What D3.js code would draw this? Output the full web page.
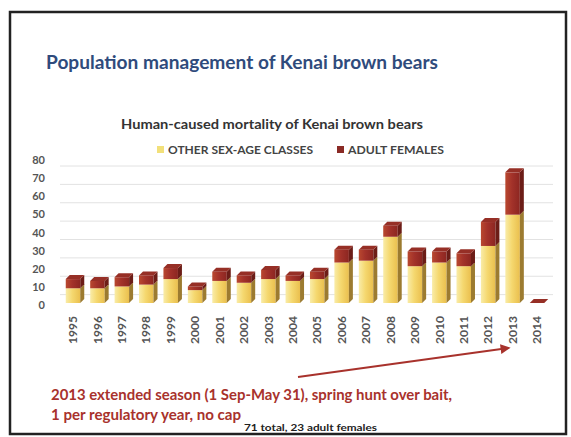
<!DOCTYPE html>
<html>
<head>
<meta charset="utf-8">
<script src="https://cdn.jsdelivr.net/npm/d3@7"></script>
<style>
  body { margin: 0; background: #fff; }
  text { font-family: Lato, "Open Sans", sans-serif; }
</style>
</head>
<body>
<script>
// values
var years = ["1995","1996","1997","1998","1999","2000","2001","2002","2003","2004",
             "2005","2006","2007","2008","2009","2010","2011","2012","2013","2014"];
var otherClasses = [8, 8, 9, 10, 13, 7, 12, 11, 13, 12, 13, 22, 23, 36, 20, 22, 20, 31, 48, 0];
var adultFemales = [5, 4, 5, 5, 6, 2, 5, 4, 5, 3, 4, 7, 6, 6, 8, 6, 7, 13, 23, 0];
var yTicks = [0, 10, 20, 30, 40, 50, 60, 70, 80];
var seriesNames = ["OTHER SEX-AGE CLASSES", "ADULT FEMALES"];

var w = 571, h = 437;
var depthX = 4, depthY = 4;   // fake 3d offset
var barW = 14.5;

var rows = years.map(function (y, i) {
    return { year: y, other: otherClasses[i], females: adultFemales[i] };
});
var stacked = d3.stack().keys(["other", "females"])(rows);

var svg = d3.select("body").append("svg")
    .attr("width", w)
    .attr("height", h);

var defs = svg.append("defs");
function grad(id, stops) {
    var g = defs.append("linearGradient").attr("id", id)
        .attr("x1", 0).attr("x2", 1).attr("y1", 0).attr("y2", 0);
    stops.forEach(function (s) {
        g.append("stop").attr("offset", s[0]).attr("stop-color", s[1]);
    });
}
grad("yellowFront", [[0, "#f9eca8"], [0.45, "#f5d86f"], [1, "#eabf4e"]]);
grad("redFront", [[0, "#b9482f"], [0.45, "#a3322a"], [1, "#8c2621"]]);

var colors = {
    other:   { front: "url(#yellowFront)", side: "#9c7b30", top: "#f0d47a", key: "#f2e07a" },
    females: { front: "url(#redFront)",    side: "#6c1d17", top: "#962f26", key: "#8a2a25" }
};

// frame
svg.append("rect")
    .attr("x", 10).attr("y", 12)
    .attr("width", 556).attr("height", 422)
    .attr("fill", "#fff")
    .attr("stroke", "#222")
    .attr("stroke-width", 2.5);

svg.append("text")
    .attr("x", 46).attr("y", 69)
    .attr("font-size", 18).attr("font-weight", 700)
    .attr("fill", "#2f4b7c")
    .attr("textLength", 392).attr("lengthAdjust", "spacingAndGlyphs")
    .text("Population management of Kenai brown bears");

svg.append("text")
    .attr("x", 121).attr("y", 129)
    .attr("font-size", 13).attr("font-weight", 700)
    .attr("fill", "#333")
    .attr("textLength", 302).attr("lengthAdjust", "spacingAndGlyphs")
    .text("Human-caused mortality of Kenai brown bears");

// scales
var x = d3.scalePoint().domain(years).range([73, 537]);
var yb = d3.scaleLinear().domain([0, 80]).range([303, 155.8]);   // bars (front plane)
var yl = d3.scaleLinear().domain([0, 80]).range([305, 160]);     // tick labels
var gy = d3.scaleLinear().domain([0, 80]).range([313, 166]);     // back wall

// back wall gridlines
svg.append("g").selectAll("line")
    .data(yTicks.filter(function (t) { return t > 0; }))
    .enter().append("line")
    .attr("x1", 60).attr("x2", 553)
    .attr("y1", function (d) { return gy(d); })
    .attr("y2", function (d) { return gy(d); })
    .attr("stroke", "#e2e2e2")
    .attr("stroke-width", 1);

var yAxis = svg.append("g")
    .attr("transform", "translate(45,0)")
    .call(d3.axisLeft(yl).tickValues(yTicks).tickSize(0).tickPadding(0));
yAxis.select(".domain").remove();
yAxis.selectAll("text")
    .attr("font-family", "Lato, sans-serif")
    .attr("font-size", 11).attr("font-weight", 700)
    .attr("fill", "#555");

var xAxis = svg.append("g")
    .attr("transform", "translate(0,316)")
    .call(d3.axisBottom(x).tickSize(0).tickPadding(0));
xAxis.select(".domain").remove();
xAxis.selectAll("text")
    .attr("font-family", "Lato, sans-serif")
    .attr("font-size", 10.5).attr("font-weight", 700)
    .attr("fill", "#555")
    .attr("text-anchor", "end")
    .attr("dy", "0.35em")
    .attr("textLength", 28).attr("lengthAdjust", "spacingAndGlyphs")
    .attr("transform", "rotate(-90)");

// bars
var barG = svg.append("g");
stacked.forEach(function (layer, li) {
    var c = colors[layer.key];
    layer.forEach(function (d) {
        var cx = x(d.data.year), x0 = cx - barW / 2, x1 = cx + barW / 2;
        var top = yb(d[1]), bot = yb(d[0]);
        if (d[1] > d[0]) {
            barG.append("rect")
                .attr("x", x0).attr("y", top)
                .attr("width", barW).attr("height", bot - top)
                .attr("fill", c.front);
            barG.append("path")
                .attr("d", "M" + x1 + "," + bot + "L" + x1 + "," + top +
                    "L" + (x1 + depthX) + "," + (top - depthY) +
                    "L" + (x1 + depthX) + "," + (bot - depthY) + "Z")
                .attr("fill", c.side);
        }
        if (li === stacked.length - 1) {
            barG.append("path")
                .attr("d", "M" + x0 + "," + top + "L" + x1 + "," + top +
                    "L" + (x1 + depthX) + "," + (top - depthY) +
                    "L" + (x0 + depthX) + "," + (top - depthY) + "Z")
                .attr("fill", c.top);
        }
    });
});

// legend
var legend = svg.append("g");
var legendX = [157, 337];
var legendLen = [145, 96];
seriesNames.forEach(function (name, i) {
    var k = i === 0 ? "other" : "females";
    legend.append("rect")
        .attr("x", legendX[i]).attr("y", 146)
        .attr("width", 7).attr("height", 7)
        .attr("fill", colors[k].key);
    legend.append("text")
        .attr("x", legendX[i] + 11).attr("y", 154)
        .attr("font-size", 10.5).attr("font-weight", 700)
        .attr("fill", "#444")
        .attr("textLength", legendLen[i]).attr("lengthAdjust", "spacingAndGlyphs")
        .text(name);
});

// annotation
defs.append("marker").attr("id", "arrow")
    .attr("viewBox", "0 0 10 10").attr("refX", 8).attr("refY", 5)
    .attr("markerWidth", 5).attr("markerHeight", 5)
    .attr("orient", "auto")
    .append("path").attr("d", "M0,0L10,5L0,10Z").attr("fill", "#a8322c");

svg.append("line")
    .attr("x1", 298).attr("y1", 377)
    .attr("x2", x("2013") - 4).attr("y2", 348)
    .attr("stroke", "#a8322c").attr("stroke-width", 2)
    .attr("marker-end", "url(#arrow)");

svg.append("text")
    .attr("x", 51).attr("y", 400)
    .attr("font-size", 15).attr("font-weight", 700)
    .attr("fill", "#a8322c")
    .attr("textLength", 401).attr("lengthAdjust", "spacingAndGlyphs")
    .text("2013 extended season (1 Sep-May 31), spring hunt over bait,");
svg.append("text")
    .attr("x", 51).attr("y", 420)
    .attr("font-size", 15).attr("font-weight", 700)
    .attr("fill", "#a8322c")
    .attr("textLength", 190).attr("lengthAdjust", "spacingAndGlyphs")
    .text("1 per regulatory year, no cap");

svg.append("text")
    .attr("x", 244).attr("y", 431)
    .attr("font-size", 10).attr("font-weight", 700)
    .attr("fill", "#222")
    .attr("textLength", 133).attr("lengthAdjust", "spacingAndGlyphs")
    .text("71 total, 23 adult females");
</script>
</body>
</html>
